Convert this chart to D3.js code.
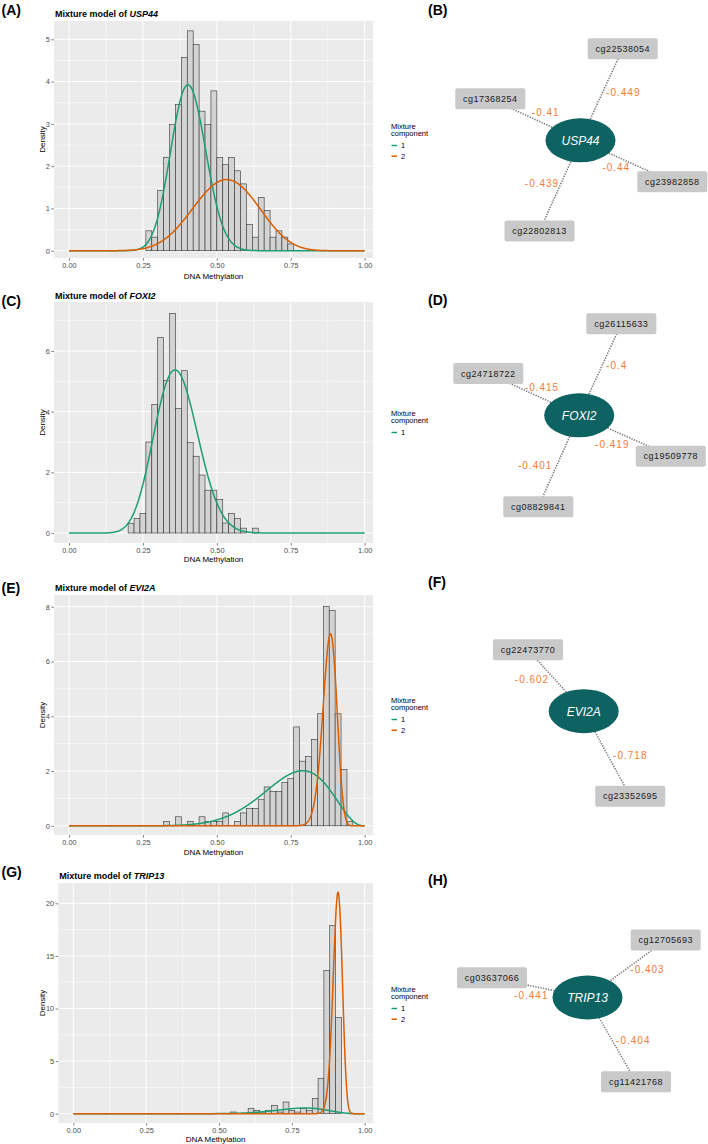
<!DOCTYPE html>
<html><head><meta charset="utf-8">
<script src="https://cdn.jsdelivr.net/npm/d3@7"></script>
<style>
body{margin:0;background:#fff}
svg{display:block}
text{font-family:"Liberation Sans",Arial,Helvetica,sans-serif}
</style>
</head><body>
<svg id="c" width="708" height="1144"></svg>
<script>
// ---------------- DATA ----------------
const binWidth = 0.02;
const xTicks = [0, 0.25, 0.5, 0.75, 1];
const xTickLabels = ["0.00", "0.25", "0.50", "0.75", "1.00"];
const xMinor = [0.125, 0.375, 0.625, 0.875];
const compColors = ["#1B9E77", "#D95F02"];

// (A) USP44
const usp44BinStart = 0.26;
const usp44Density = [0.47,0.32,1.42,2.21,2.99,3.46,4.57,5.20,4.88,3.30,2.99,3.78,2.20,2.04,2.20,1.89,1.58,0.62,0.32,1.26,0.95,0.32,0.47,0.32,0.16];
const usp44YTicks = [0,1,2,3,4,5];
const usp44CompLabels = ["1","2"];
const usp44CompMean = [0.405, 0.53];
const usp44CompSD = [0.058, 0.105];
const usp44CompWeight = [0.576, 0.458];

// (C) FOXI2
const foxi2BinStart = 0.20;
const foxi2Density = [0.32,0.48,0.64,3.00,4.24,6.45,5.03,7.24,4.11,5.35,2.98,2.53,1.91,1.41,1.41,1.10,0.33,0.64,0.48,0.16,0,0.16];
const foxi2YTicks = [0,2,4,6];
const foxi2CompLabels = ["1"];
const foxi2CompMean = [0.365];
const foxi2CompSD = [0.072];
const foxi2CompWeight = [0.984];

// (E) EVI2A
const evi2aBinStart = 0.32;
const evi2aDensity = [0.16,0,0.33,0,0.16,0,0.33,0.16,0.16,0.16,0.47,0,0.16,0.47,0.63,0.63,0.97,1.42,1.25,1.25,1.58,1.72,3.61,2.36,2.53,3.15,4.09,8.01,7.86,4.09,2.05,0.16];
const evi2aYTicks = [0,2,4,6,8];
const evi2aCompLabels = ["1","2"];
const evi2aCompMean = [0.75, 0.88];
const evi2aCompSD = [0.110, 0.024];
const evi2aCompWeight = [0.556, 0.418];

// (G) TRIP13
const trip13BinStart = 0.54;
const trip13Density = [0.16,0,0,0.48,0.32,0.16,0.32,0.79,0.16,1.11,0.32,0.16,0.48,0.32,1.43,3.37,13.6,17.9,9.16];
const trip13YTicks = [0,5,10,15,20];
const trip13CompLabels = ["1","2"];
const trip13CompMean = [0.77, 0.906];
const trip13CompSD = [0.085, 0.016];
const trip13CompWeight = [0.115, 0.838];

// Networks: node names, layout offsets from hub (layout units), correlation labels and label offsets
const usp44Probes = ["cg22538054","cg17368254","cg23982858","cg22802813"];
const usp44Corr = ["-0.449","-0.41","-0.44","-0.439"];
const usp44NodeX = [42.2,-90.2,91.8,-41.0];
const usp44NodeY = [-91.5,-41.5,41.5,90.7];
const usp44LabX = [42.8,-34.8,35.8,-38.5];
const usp44LabY = [-47.6,-28.0,27.0,43.0];

const foxi2Probes = ["cg26115633","cg24718722","cg19509778","cg08829841"];
const foxi2Corr = ["-0.4","-0.415","-0.419","-0.401"];
const foxi2NodeX = [42.1,-90.9,91.6,-40.9];
const foxi2NodeY = [-91.5,-41.8,40.9,91.4];
const foxi2LabX = [37.5,-37.2,33.1,-44.0];
const foxi2LabY = [-50.3,-28.0,28.7,49.7];

const evi2aProbes = ["cg22473770","cg23352695"];
const evi2aCorr = ["-0.602","-0.718"];
const evi2aNodeX = [-55.7,46.5];
const evi2aNodeY = [-61.4,85.1];
const evi2aLabX = [-51.7,46.6];
const evi2aLabY = [-31.9,44.5];

const trip13Probes = ["cg12705693","cg03637066","cg11421768"];
const trip13Corr = ["-0.403","-0.441","-0.404"];
const trip13NodeX = [78.2,-95.5,48.5];
const trip13NodeY = [-57.5,-19.7,84.3];
const trip13LabX = [60.0,-56.2,45.8];
const trip13LabY = [-28.2,-2.5,42.5];

// ---------------- HELPERS ----------------
function lnGamma(z){
  const g=7, c=[0.99999999999980993,676.5203681218851,-1259.1392167224028,771.32342877765313,-176.61502916214059,12.507343278686905,-0.13857109526572012,9.9843695780195716e-6,1.5056327351493116e-7];
  if(z<0.5) return Math.log(Math.PI/Math.sin(Math.PI*z)) - lnGamma(1-z);
  z-=1; let x=c[0];
  for(let i=1;i<g+2;i++) x+=c[i]/(z+i);
  const t=z+g+0.5;
  return 0.5*Math.log(2*Math.PI)+(z+0.5)*Math.log(t)-t+Math.log(x);
}
function betaPdfMS(x, m, s){
  const k = m*(1-m)/(s*s) - 1, a = m*k, b = (1-m)*k;
  if (x<=0 || x>=1) return 0;
  const lnB = lnGamma(a)+lnGamma(b)-lnGamma(a+b);
  return Math.exp((a-1)*Math.log(x)+(b-1)*Math.log(1-x)-lnB);
}

const svg = d3.select("#c");
svg.append("rect").attr("width",708).attr("height",1144).attr("fill","#fff");

function drawHist(cfg){
  const g = svg.append("g");
  const x = d3.scaleLinear().domain([0,1]).range([cfg.x0, cfg.x1]);
  const y = d3.scaleLinear().domain([0, cfg.yRefVal]).range([cfg.y0, cfg.yRefPx]);
  const L = cfg.left, R = cfg.right, T = cfg.top, B = cfg.bottom;
  // panel letter & title
  g.append("text").attr("x",1.5).attr("y",cfg.letterY).attr("font-size",14).attr("font-weight","bold").text("("+cfg.letter+")");
  const tt = g.append("text").attr("x",L+1).attr("y",cfg.titleY).attr("font-size",9).attr("font-weight","bold");
  tt.append("tspan").text("Mixture model of ");
  tt.append("tspan").attr("font-style","italic").text(cfg.gene);
  // panel bg
  g.append("rect").attr("x",L).attr("y",T).attr("width",R-L).attr("height",B-T).attr("fill","#EBEBEB");
  const clip = "clip"+cfg.letter;
  g.append("clipPath").attr("id",clip).append("rect").attr("x",L).attr("y",T).attr("width",R-L).attr("height",B-T);
  const pg = g.append("g").attr("clip-path","url(#"+clip+")");
  // minor grid
  const yMinor = [];
  for(let i=0;i<cfg.yTicks.length;i++){ const step = cfg.yTicks[1]-cfg.yTicks[0]; yMinor.push(cfg.yTicks[i]+step/2); }
  pg.selectAll(".ymi").data(yMinor).join("line").attr("x1",L).attr("x2",R).attr("y1",d=>y(d)).attr("y2",d=>y(d)).attr("stroke","#fff").attr("stroke-width",0.5);
  pg.selectAll(".xmi").data(xMinor).join("line").attr("y1",T).attr("y2",B).attr("x1",d=>x(d)).attr("x2",d=>x(d)).attr("stroke","#fff").attr("stroke-width",0.5);
  pg.selectAll(".yma").data(cfg.yTicks).join("line").attr("x1",L).attr("x2",R).attr("y1",d=>y(d)).attr("y2",d=>y(d)).attr("stroke","#fff").attr("stroke-width",1);
  pg.selectAll(".xma").data(xTicks).join("line").attr("y1",T).attr("y2",B).attr("x1",d=>x(d)).attr("x2",d=>x(d)).attr("stroke","#fff").attr("stroke-width",1);
  // bars
  const bars = cfg.density.map((d,i)=>({x0: cfg.binStart + i*binWidth, x1: cfg.binStart+(i+1)*binWidth, d}));
  pg.selectAll(".bar").data(bars.filter(b=>b.d>0)).join("rect")
    .attr("x",b=>x(b.x0)).attr("width",b=>x(b.x1)-x(b.x0))
    .attr("y",b=>y(b.d)).attr("height",b=>y(0)-y(b.d))
    .attr("fill","#D3D3D3").attr("stroke","#333").attr("stroke-width",0.6);
  // curves
  const xs = d3.range(0, 1.0001, 0.001);
  const line = d3.line().x(p=>x(p[0])).y(p=>y(p[1]));
  cfg.compMean.forEach((m,i)=>{
    const pts = xs.map(v=>[v, cfg.compWeight[i]*betaPdfMS(v, m, cfg.compSD[i])]);
    pg.append("path").attr("d",line(pts)).attr("fill","none").attr("stroke",compColors[i]).attr("stroke-width",1.5);
  });
  // axes
  const ya = d3.axisLeft(y).tickValues(cfg.yTicks).tickSize(2.7).tickPadding(1.5).tickFormat(d3.format("d"));
  const yg = g.append("g").attr("transform","translate("+L+",0)").call(ya);
  const xa = d3.axisBottom(x).tickValues(xTicks).tickSize(2.7).tickPadding(2).tickFormat((d,i)=>xTickLabels[i]);
  const xg = g.append("g").attr("transform","translate(0,"+B+")").call(xa);
  [yg,xg].forEach(a=>{
    a.select(".domain").remove();
    a.selectAll(".tick line").attr("stroke","#333").attr("stroke-width",0.6);
    a.selectAll(".tick text").attr("fill","#4D4D4D").attr("font-size",7.4).attr("font-family","Liberation Sans, Arial, sans-serif");
  });
  g.append("text").attr("x",(L+R)/2).attr("y",cfg.xLabY).attr("text-anchor","middle").attr("font-size",8).text("DNA Methylation");
  g.append("text").attr("transform","translate(45,"+((T+B)/2)+") rotate(-90)").attr("text-anchor","middle").attr("font-size",8).text("Density");
  // legend
  const lg = g.append("g").attr("transform","translate(391,"+cfg.legY+")");
  lg.append("text").attr("x",0).attr("y",0).attr("font-size",7.5).text("Mixture");
  lg.append("text").attr("x",0).attr("y",7.5).attr("font-size",7.5).text("component");
  cfg.compLabels.forEach((lab,i)=>{
    const yy = 17 + i*10.7;
    lg.append("line").attr("x1",0.5).attr("x2",6).attr("y1",yy).attr("y2",yy).attr("stroke",compColors[i]).attr("stroke-width",1.5);
    lg.append("text").attr("x",10).attr("y",yy+2.6).attr("font-size",7.5).text(lab);
  });
}

function drawNet(cfg){
  const g = svg.append("g");
  const sx = d3.scaleLinear().domain([0,1]).range([cfg.cx, cfg.cx+1]);
  const sy = d3.scaleLinear().domain([0,1]).range([cfg.cy, cfg.cy+1]);
  g.append("text").attr("x",428).attr("y",cfg.letterY).attr("font-size",14).attr("font-weight","bold").text("("+cfg.letter+")");
  const nodes = cfg.probes.map((p,i)=>({p, x:cfg.nodeX[i], y:cfg.nodeY[i], c:cfg.corr[i], lx:cfg.labX[i], ly:cfg.labY[i]}));
  g.selectAll(".edge").data(nodes).join("line")
    .attr("x1",sx(0)).attr("y1",sy(0)).attr("x2",d=>sx(d.x)).attr("y2",d=>sy(d.y))
    .attr("stroke","#7a7a7a").attr("stroke-width",1.6).attr("stroke-dasharray","1.3 1.3");
  const ng = g.selectAll(".node").data(nodes).join("g").attr("transform",d=>"translate("+sx(d.x)+","+sy(d.y)+")");
  ng.append("rect").attr("x",-35).attr("y",-10.5).attr("width",70).attr("height",21).attr("rx",2).attr("fill","#C9C9C9");
  ng.append("text").attr("text-anchor","middle").attr("dy","0.35em").attr("font-size",9).attr("letter-spacing",0.5).attr("fill","#1a1a1a").text(d=>d.p);
  g.append("ellipse").attr("cx",sx(0)).attr("cy",sy(0)).attr("rx",35).attr("ry",22).attr("fill","#0D6262");
  g.append("text").attr("x",sx(0)).attr("y",sy(0)).attr("dy","0.36em").attr("text-anchor","middle").attr("font-size",12).attr("font-style","italic").attr("fill","#fff").text(cfg.gene);
  g.selectAll(".lab").data(nodes).join("text")
    .attr("x",d=>sx(d.lx)).attr("y",d=>sy(d.ly)).attr("dy","0.35em").attr("text-anchor","middle")
    .attr("font-size",10).attr("letter-spacing",1).attr("fill","#F47B36").text(d=>d.c);
}

drawHist({letter:"A", gene:"USP44", letterY:15, titleY:16.5, left:54, right:373, top:21, bottom:258, x0:69, x1:364.7, y0:250.7, yRefVal:5, yRefPx:39.3, xLabY:279,
  yTicks:usp44YTicks, binStart:usp44BinStart, density:usp44Density, compMean:usp44CompMean, compSD:usp44CompSD, compWeight:usp44CompWeight, compLabels:usp44CompLabels, legY:128.5});
drawHist({letter:"C", gene:"FOXI2", letterY:305.5, titleY:298.5, left:54, right:373, top:302, bottom:543, x0:69, x1:364.7, y0:533, yRefVal:6, yRefPx:351, xLabY:562,
  yTicks:foxi2YTicks, binStart:foxi2BinStart, density:foxi2Density, compMean:foxi2CompMean, compSD:foxi2CompSD, compWeight:foxi2CompWeight, compLabels:foxi2CompLabels, legY:415.5});
drawHist({letter:"E", gene:"EVI2A", letterY:592.5, titleY:590.5, left:54, right:373, top:595, bottom:835, x0:69, x1:364.7, y0:825.8, yRefVal:8, yRefPx:606.7, xLabY:854.5,
  yTicks:evi2aYTicks, binStart:evi2aBinStart, density:evi2aDensity, compMean:evi2aCompMean, compSD:evi2aCompSD, compWeight:evi2aCompWeight, compLabels:evi2aCompLabels, legY:702.5});
drawHist({letter:"G", gene:"TRIP13", letterY:877, titleY:879, left:58.3, right:373, top:883, bottom:1123, x0:73.3, x1:364.7, y0:1113.7, yRefVal:20, yRefPx:903.3, xLabY:1142,
  yTicks:trip13YTicks, binStart:trip13BinStart, density:trip13Density, compMean:trip13CompMean, compSD:trip13CompSD, compWeight:trip13CompWeight, compLabels:trip13CompLabels, legY:991.5});

drawNet({letter:"B", gene:"USP44", letterY:15, cx:580.5, cy:140.3, probes:usp44Probes, corr:usp44Corr, nodeX:usp44NodeX, nodeY:usp44NodeY, labX:usp44LabX, labY:usp44LabY});
drawNet({letter:"D", gene:"FOXI2", letterY:305, cx:579.2, cy:415.3, probes:foxi2Probes, corr:foxi2Corr, nodeX:foxi2NodeX, nodeY:foxi2NodeY, labX:foxi2LabX, labY:foxi2LabY});
drawNet({letter:"F", gene:"EVI2A", letterY:587, cx:583.7, cy:711.2, probes:evi2aProbes, corr:evi2aCorr, nodeX:evi2aNodeX, nodeY:evi2aNodeY, labX:evi2aLabX, labY:evi2aLabY});
drawNet({letter:"H", gene:"TRIP13", letterY:885, cx:587.5, cy:997.5, probes:trip13Probes, corr:trip13Corr, nodeX:trip13NodeX, nodeY:trip13NodeY, labX:trip13LabX, labY:trip13LabY});
</script>
</body></html>
